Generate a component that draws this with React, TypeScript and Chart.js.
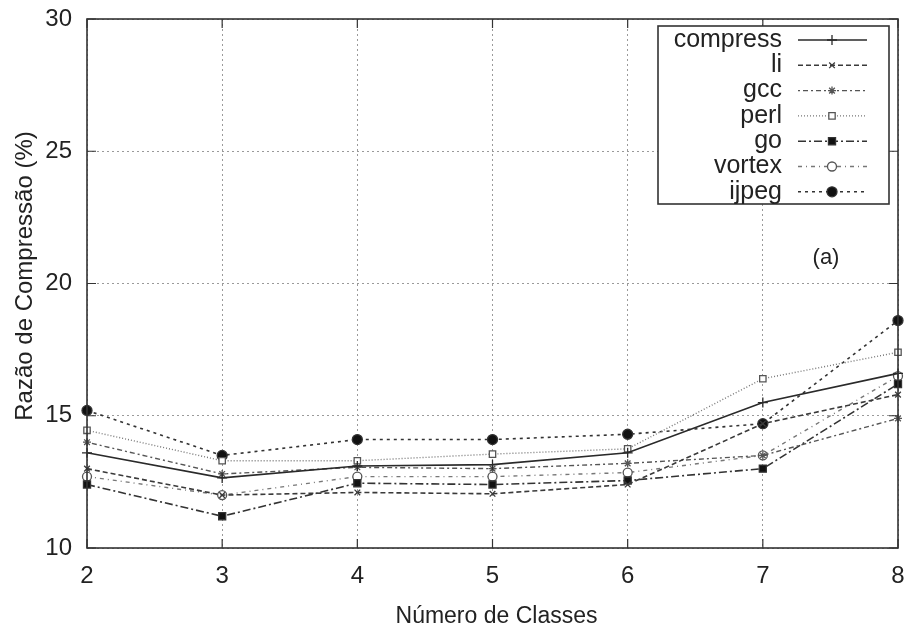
import React, { useEffect, useRef } from "react";
import { Chart, registerables } from "chart.js";
import { drawPoint } from "chart.js/helpers";

Chart.register(...registerables);

// Number of classes on the x axis
const classes = ["2", "3", "4", "5", "6", "7", "8"];

// Compression ratio (%) per benchmark
const compress = [13.6, 12.65, 13.1, 13.15, 13.6, 15.5, 16.6];
const li = [13.0, 12.0, 12.1, 12.05, 12.4, 14.7, 15.8];
const gcc = [14.0, 12.8, 13.05, 13.0, 13.2, 13.5, 14.9];
const perl = [14.45, 13.3, 13.3, 13.55, 13.75, 16.4, 17.4];
const go = [12.4, 11.2, 12.45, 12.4, 12.55, 13.0, 16.2];
const vortex = [12.7, 12.0, 12.7, 12.7, 12.85, 13.5, 16.5];
const ijpeg = [15.2, 13.5, 14.1, 14.1, 14.3, 14.7, 18.6];

const yMin = 10;
const yMax = 30;
const yStep = 5;

const xTitle = "Número de Classes";
const yTitle = "Razão de Compressão (%)";
const panelTag = "(a)";

const FONT = "'Liberation Sans', Arial, Helvetica, sans-serif";
const INK = "#222";

type SeriesStyle = {
  label: string;
  data: number[];
  color: string;
  dash: number[];
  width: number;
  point: string;
  radius: number;
  fill: string;
};

const series: SeriesStyle[] = [
  { label: "compress", data: compress, color: "#2a2a2a", dash: [], width: 1.7, point: "cross", radius: 5, fill: "#2a2a2a" },
  { label: "li", data: li, color: "#3a3a3a", dash: [5, 3], width: 1.6, point: "crossRot", radius: 4, fill: "#3a3a3a" },
  { label: "gcc", data: gcc, color: "#555", dash: [2, 3, 5, 3], width: 1.4, point: "star", radius: 4, fill: "#333" },
  { label: "perl", data: perl, color: "#777", dash: [1, 2], width: 1.4, point: "rect", radius: 4.5, fill: "#fff" },
  { label: "go", data: go, color: "#333", dash: [8, 3, 2, 3], width: 1.6, point: "rect", radius: 5, fill: "#111" },
  { label: "vortex", data: vortex, color: "#777", dash: [4, 4, 1, 4], width: 1.4, point: "circle", radius: 4.5, fill: "#fff" },
  { label: "ijpeg", data: ijpeg, color: "#333", dash: [3, 4], width: 1.6, point: "circle", radius: 5, fill: "#111" },
];

// Gnuplot-like frame, inward ticks, key box and axis titles
const decorations = {
  id: "decorations",
  beforeDraw(chart: any) {
    const { ctx, width, height } = chart;
    ctx.save();
    ctx.fillStyle = "#fff";
    ctx.fillRect(0, 0, width, height);
    ctx.restore();
  },
  afterDraw(chart: any) {
    const { ctx, chartArea } = chart;
    const { left, right, top, bottom } = chartArea;
    const xs = chart.scales.x;
    const ys = chart.scales.y;
    ctx.save();

    // frame
    ctx.strokeStyle = "#333";
    ctx.lineWidth = 1.6;
    ctx.setLineDash([]);
    ctx.strokeRect(left, top, right - left, bottom - top);

    // inward tick marks
    ctx.lineWidth = 1.2;
    ctx.beginPath();
    ys.ticks.forEach((_: any, i: number) => {
      const y = ys.getPixelForTick(i);
      ctx.moveTo(left, y);
      ctx.lineTo(left + 9, y);
      ctx.moveTo(right, y);
      ctx.lineTo(right - 9, y);
    });
    xs.ticks.forEach((_: any, i: number) => {
      const x = xs.getPixelForTick(i);
      ctx.moveTo(x, bottom);
      ctx.lineTo(x, bottom - 9);
      ctx.moveTo(x, top);
      ctx.lineTo(x, top + 9);
    });
    ctx.stroke();

    // axis titles
    ctx.fillStyle = INK;
    ctx.font = `23px ${FONT}`;
    ctx.textAlign = "center";
    ctx.textBaseline = "middle";
    ctx.fillText(xTitle, (left + right) / 2 + 4, 617);
    ctx.save();
    ctx.translate(25, 276);
    ctx.rotate(-Math.PI / 2);
    ctx.font = `24px ${FONT}`;
    ctx.fillText(yTitle, 0, 0);
    ctx.restore();

    // panel tag
    ctx.font = `22px ${FONT}`;
    ctx.fillText(panelTag, 826, 258);

    // key box
    const bx = 658, by = 26, bw = 231, bh = 178;
    ctx.fillStyle = "#fff";
    ctx.fillRect(bx, by, bw, bh);
    ctx.strokeStyle = "#333";
    ctx.lineWidth = 1.6;
    ctx.strokeRect(bx, by, bw, bh);

    chart.data.datasets.forEach((ds: any, i: number) => {
      const y = 40 + i * 25.3;
      ctx.fillStyle = INK;
      ctx.font = `25px ${FONT}`;
      ctx.textAlign = "right";
      ctx.textBaseline = "middle";
      ctx.fillText(ds.label, 782, y);

      ctx.strokeStyle = ds.borderColor;
      ctx.lineWidth = ds.borderWidth;
      ctx.setLineDash(ds.borderDash || []);
      ctx.beginPath();
      ctx.moveTo(798, y);
      ctx.lineTo(867, y);
      ctx.stroke();

      ctx.setLineDash([]);
      ctx.fillStyle = ds.pointBackgroundColor;
      ctx.strokeStyle = ds.pointBorderColor;
      ctx.lineWidth = 1.3;
      drawPoint(
        ctx,
        { pointStyle: ds.pointStyle, rotation: 0, radius: ds.pointRadius, borderWidth: 1.3 },
        832,
        y
      );
    });

    ctx.restore();
  },
};

export default function App() {
  const canvasRef = useRef<HTMLCanvasElement | null>(null);

  useEffect(() => {
    document.body.style.margin = "0";
    const canvas = canvasRef.current;
    if (!canvas) return;

    const chart = new Chart(canvas, {
      type: "line",
      data: {
        labels: classes,
        datasets: series.map((s) => ({
          label: s.label,
          data: s.data,
          borderColor: s.color,
          borderWidth: s.width,
          borderDash: s.dash,
          pointStyle: s.point as any,
          pointRadius: s.radius,
          pointHoverRadius: s.radius,
          pointBorderWidth: 1.3,
          pointBackgroundColor: s.fill,
          pointBorderColor: s.color === "#777" ? "#555" : s.color,
          tension: 0,
          fill: false,
        })),
      },
      options: {
        responsive: false,
        animation: false,
        devicePixelRatio: 1,
        layout: { padding: { top: 19, right: 9, left: 0, bottom: 0 } },
        plugins: {
          legend: { display: false },
          tooltip: { enabled: false },
        },
        scales: {
          x: {
            type: "category",
            offset: false,
            afterFit: (scale: any) => {
              scale.height = 87;
              scale.paddingLeft = 0;
              scale.paddingRight = 0;
            },
            grid: { color: "#9a9a9a", lineWidth: 1, drawTicks: false },
            border: { display: false, dash: [2, 3] },
            ticks: {
              color: INK,
              font: { family: FONT, size: 24 },
              padding: 14,
              maxRotation: 0,
            },
          },
          y: {
            min: yMin,
            max: yMax,
            afterFit: (scale: any) => {
              scale.width = 87;
              scale.paddingTop = 0;
              scale.paddingBottom = 0;
            },
            grid: { color: "#9a9a9a", lineWidth: 1, drawTicks: false },
            border: { display: false, dash: [2, 3] },
            ticks: {
              stepSize: yStep,
              color: INK,
              font: { family: FONT, size: 24 },
              padding: 15,
            },
          },
        },
      },
      plugins: [decorations],
    });

    return () => chart.destroy();
  }, []);

  return (
    <div style={{ width: 907, height: 635 }}>
      <canvas ref={canvasRef} width={907} height={635} />
    </div>
  );
}
